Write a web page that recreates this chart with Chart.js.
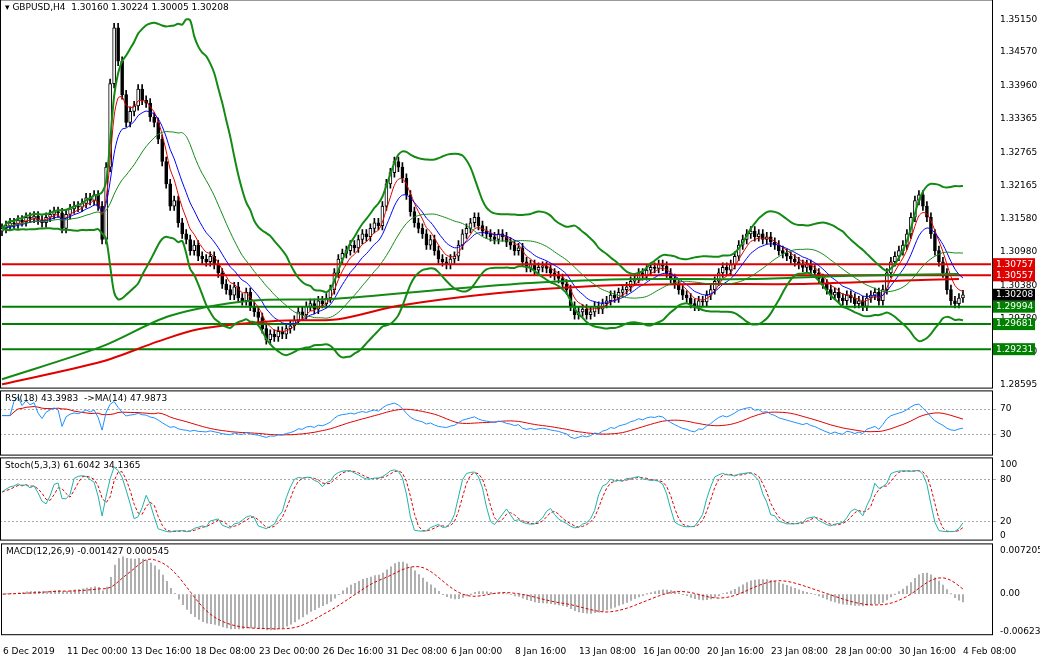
<!DOCTYPE html>
<html>
<head>
<meta charset="utf-8">
<script src="https://cdn.jsdelivr.net/npm/chart.js@4.4.1/dist/chart.umd.min.js"></script>
<style>
  body { margin: 0; background: #fff; width: 1040px; height: 660px; overflow: hidden; font-family: "DejaVu Sans", sans-serif; }
  .pane { position: absolute; left: 0; width: 1040px; }
</style>
</head>
<body>
<div class="pane" style="top:-10px;height:408px"><canvas id="main"></canvas></div>
<div class="pane" style="top:381px;height:84px"><canvas id="rsi"></canvas></div>
<div class="pane" style="top:448px;height:102px"><canvas id="stoch"></canvas></div>
<div class="pane" style="top:534px;height:126px"><canvas id="macd"></canvas></div>
<script>
// H4 closes, 6 Dec 2019 .. 4 Feb 2020
const closes = [
  1.3140,1.3145,1.3150,1.3148,1.3155,1.3152,1.3160,1.3158,1.3162,1.3155,
  1.3150,1.3160,1.3165,1.3170,1.3168,1.3140,1.3165,1.3175,1.3180,1.3178,
  1.3185,1.3195,1.3190,1.3200,1.3180,1.3120,1.3250,1.3400,1.3500,1.3440,
  1.3380,1.3330,1.3350,1.3360,1.3390,1.3370,1.3365,1.3340,1.3330,1.3300,
  1.3260,1.3220,1.3180,1.3190,1.3150,1.3130,1.3120,1.3100,1.3110,1.3090,
  1.3085,1.3080,1.3090,1.3075,1.3060,1.3040,1.3030,1.3020,1.3035,1.3015,
  1.3010,1.3025,1.3000,1.2990,1.2980,1.2960,1.2940,1.2950,1.2945,1.2955,
  1.2950,1.2960,1.2965,1.2975,1.2990,1.2985,1.3000,1.3005,1.2995,1.3010,
  1.3005,1.3015,1.3030,1.3060,1.3085,1.3095,1.3100,1.3110,1.3105,1.3120,
  1.3130,1.3125,1.3140,1.3150,1.3145,1.3180,1.3220,1.3240,1.3260,1.3250,
  1.3230,1.3200,1.3170,1.3150,1.3140,1.3130,1.3110,1.3120,1.3100,1.3085,
  1.3080,1.3075,1.3085,1.3090,1.3110,1.3130,1.3140,1.3150,1.3160,1.3145,
  1.3135,1.3130,1.3125,1.3120,1.3130,1.3125,1.3115,1.3110,1.3100,1.3105,
  1.3080,1.3070,1.3075,1.3065,1.3070,1.3072,1.3068,1.3060,1.3055,1.3050,
  1.3040,1.3030,1.3000,1.2985,1.2990,1.2995,1.2985,1.2990,1.3000,1.2995,
  1.3005,1.3010,1.3020,1.3015,1.3025,1.3030,1.3035,1.3045,1.3050,1.3060,
  1.3055,1.3065,1.3070,1.3068,1.3075,1.3072,1.3060,1.3050,1.3040,1.3030,
  1.3020,1.3015,1.3005,1.3000,1.3010,1.3008,1.3020,1.3030,1.3045,1.3060,
  1.3070,1.3065,1.3075,1.3090,1.3110,1.3120,1.3130,1.3135,1.3125,1.3130,
  1.3120,1.3125,1.3115,1.3110,1.3100,1.3095,1.3090,1.3085,1.3080,1.3075,
  1.3070,1.3075,1.3065,1.3060,1.3050,1.3040,1.3030,1.3020,1.3025,1.3015,
  1.3010,1.3020,1.3015,1.3005,1.3010,1.3000,1.3015,1.3020,1.3025,1.3010,
  1.3030,1.3060,1.3080,1.3090,1.3100,1.3110,1.3130,1.3160,1.3190,1.3200,
  1.3180,1.3160,1.3130,1.3100,1.3080,1.3060,1.3030,1.3010,1.3005,1.3015,
  1.30208
];
const firstOpen = 1.3135;
const wick = 0.0008;
const totalSlots = 248;

// x labels every 16 bars
const timeLabels = ['6 Dec 2019','11 Dec 00:00','13 Dec 16:00','18 Dec 08:00','23 Dec 00:00','26 Dec 16:00',
  '31 Dec 08:00','6 Jan 00:00','8 Jan 16:00','13 Jan 08:00','16 Jan 00:00','20 Jan 16:00',
  '23 Jan 08:00','28 Jan 00:00','30 Jan 16:00','4 Feb 08:00'];

// long moving averages (bar index -> price)
const maSlowIdx  = [0, 25, 39, 49, 69, 84, 99, 124, 149, 174, 199, 224, 239];
const maSlowVals = [1.2860,1.2901,1.2937,1.2959,1.2974,1.2977,1.3001,1.3024,1.3037,1.3040,1.3040,1.3046,1.3049];
const maLongIdx  = [0, 25, 42, 62, 82, 107, 132, 159, 187, 212, 239];
const maLongVals = [1.2869,1.2928,1.2983,1.3010,1.3013,1.3028,1.3042,1.3049,1.3049,1.3055,1.3058];

// horizontal levels
const redLevels = [1.30757, 1.30557];
const greenLevels = [1.29994, 1.29681, 1.29231];
const priceTicks = [1.35150,1.34570,1.33960,1.33365,1.32765,1.32165,1.31580,1.30980,1.30380,1.29780,1.29180,1.28595];

const labels = Array.from({length: totalSlots}, (_, i) => i);
const opens = closes.map((c, i) => i === 0 ? firstOpen : closes[i - 1]);

function sma(arr, n) {
  return arr.map((v, i) => {
    if (v == null) return null;
    const s = arr.slice(Math.max(0, i - n + 1), i + 1).filter(x => x != null);
    return s.reduce((a, b) => a + b, 0) / s.length;
  });
}
function ema(arr, n) {
  const k = 2 / (n + 1); let e = arr[0];
  return arr.map(v => (e = e + k * (v - e)));
}
function sparse(idx, vals) {
  const out = new Array(totalSlots).fill(null);
  idx.forEach((x, j) => out[x] = vals[j]);
  return out;
}

// Bollinger 20,2
const mid = sma(closes, 20);
const sd = closes.map((v, i) => {
  const s = closes.slice(Math.max(0, i - 19), i + 1);
  const m = mid[i];
  return Math.sqrt(s.reduce((a, b) => a + (b - m) * (b - m), 0) / s.length);
});
const bbUp = mid.map((m, i) => m + 2 * sd[i]);
const bbDn = mid.map((m, i) => m - 2 * sd[i]);
const maFast = ema(closes, 5);
const maMid = ema(closes, 10);

// RSI 18 + MA 14
const rsi = (() => {
  let ag = 0, al = 0;
  return closes.map((c, i) => {
    const d = i === 0 ? 0 : c - closes[i - 1];
    ag = (ag * 17 + Math.max(d, 0)) / 18;
    al = (al * 17 + Math.max(-d, 0)) / 18;
    return al === 0 ? 60 : 100 - 100 / (1 + ag / al);
  });
})();
const rsiMa = sma(rsi, 14);

// Stochastic 5,3,3
const highs = closes.map((c, i) => Math.max(c, opens[i]) + wick);
const lows = closes.map((c, i) => Math.min(c, opens[i]) - wick);
const num = closes.map((c, i) => c - Math.min(...lows.slice(Math.max(0, i - 4), i + 1)));
const den = closes.map((c, i) => Math.max(...highs.slice(Math.max(0, i - 4), i + 1)) - Math.min(...lows.slice(Math.max(0, i - 4), i + 1)));
const stK = num.map((n, i) => {
  const a = num.slice(Math.max(0, i - 2), i + 1).reduce((x, y) => x + y, 0);
  const b = den.slice(Math.max(0, i - 2), i + 1).reduce((x, y) => x + y, 0);
  return 100 * a / b;
});
const stD = sma(stK, 3);

// MACD 12,26,9
const macd = ema(closes, 12).map((v, i) => v - ema(closes, 26)[i]);
const macdSig = sma(macd, 9);

Chart.defaults.animation = false;
Chart.defaults.font = { family: 'DejaVu Sans', size: 9 };
Chart.defaults.color = '#000';

const frame = {
  id: 'frame',
  afterDraw(c) {
    const a = c.chartArea, g = c.ctx;
    g.save(); g.strokeStyle = '#000'; g.lineWidth = 1;
    g.strokeRect(a.left + 0.5, a.top + 0.5, a.right - a.left - 1, a.bottom - a.top - 1);
    g.font = '9px DejaVu Sans'; g.fillStyle = '#000'; g.textBaseline = 'top';
    g.fillText(c.options.plugins.paneTitle, a.left + 5, a.top + 4);
    g.restore();
  }
};

function xScale(show) {
  return {
    type: 'category', offset: true,
    grid: { display: false },
    border: { display: false },
    ticks: {
      display: show, autoSkip: false, maxRotation: 0, align: 'start', padding: 3,
      callback: (v, i) => (i % 16 === 0 && timeLabels[i / 16]) ? timeLabels[i / 16] : ''
    }
  };
}
function yScale(min, max, ticks, fmt, dotted) {
  return {
    position: 'right', min, max,
    afterFit: s => { s.width = 47; },
    afterBuildTicks: s => { s.ticks = ticks.map(v => ({ value: v })); },
    grid: {
      tickLength: 3,
      color: ctx => (dotted && dotted.includes(ctx.tick && ctx.tick.value)) ? '#aaa' : 'rgba(0,0,0,0)',
    },
    border: { display: false, dash: [2, 2] },
    ticks: { padding: 4, callback: fmt }
  };
}
function line(data, color, w, dash) {
  return { type: 'line', data, borderColor: color, borderWidth: w, borderDash: dash || [], pointRadius: 0, spanGaps: true, fill: false };
}
const baseOpts = (title, scales) => ({
  responsive: true, maintainAspectRatio: false,
  layout: { padding: 0 },
  plugins: { legend: { display: false }, tooltip: { enabled: false }, paneTitle: title },
  scales
});

// main price chart
const levelBoxes = {
  id: 'levelBoxes',
  afterDraw(c) {
    const y = c.scales.y, a = c.chartArea, g = c.ctx;
    const boxes = [
      ...redLevels.map(v => [v, '#e00000']),
      ...greenLevels.map(v => [v, '#008000']),
      [closes[closes.length - 1], '#000']
    ];
    g.save(); g.font = '9px DejaVu Sans'; g.textBaseline = 'middle';
    boxes.forEach(([v, col]) => {
      const py = y.getPixelForValue(v);
      g.fillStyle = col; g.fillRect(a.right, py - 6, 42, 12);
      g.fillStyle = '#fff'; g.fillText(v.toFixed(5), a.right + 3, py);
    });
    g.restore();
  }
};
const dsMain = [
  { type: 'bar', data: closes.map((c, i) => [lows[i], highs[i]]), backgroundColor: '#000', barThickness: 1, grouped: false, order: 5 },
  { type: 'bar', data: closes.map((c, i) => [opens[i], c]), backgroundColor: closes.map((c, i) => c >= opens[i] ? '#fff' : '#000'),
    borderColor: '#000', borderWidth: 1, borderSkipped: false, barThickness: 3, grouped: false, order: 4 },
  line(bbUp, '#138a13', 2), line(bbDn, '#138a13', 2), line(mid, '#138a13', 1),
  line(sparse(maLongIdx, maLongVals), '#138a13', 2),
  line(sparse(maSlowIdx, maSlowVals), '#e00000', 2),
  line(maMid, '#0000ff', 1), line(maFast, '#e00000', 1),
  ...redLevels.map(v => line(labels.map(() => v), '#e00000', 2)),
  ...greenLevels.map(v => line(labels.map(() => v), '#008000', 2))
];
dsMain.forEach(d => { if (d.type === 'line') { d.tension = 0.3; d.order = 1; } });
new Chart(document.getElementById('main'), {
  data: { labels, datasets: dsMain },
  options: baseOpts('\u25BE GBPUSD,H4  1.30160 1.30224 1.30005 1.30208', {
    x: xScale(false),
    y: yScale(1.28523, 1.35511, priceTicks, v => v.toFixed(5))
  }),
  plugins: [frame, levelBoxes]
});

new Chart(document.getElementById('rsi'), {
  data: { labels, datasets: [line(rsi, '#1e90ff', 1), line(rsiMa, '#e00000', 1)] },
  options: baseOpts('RSI(18) 43.3983  ->MA(14) 47.9873', {
    x: xScale(false),
    y: yScale(-2, 99, [70, 30], v => v, [70, 30])
  }),
  plugins: [frame]
});

new Chart(document.getElementById('stoch'), {
  data: { labels, datasets: [line(stK, '#20b2aa', 1), line(stD, '#e00000', 1, [3, 2])] },
  options: baseOpts('Stoch(5,3,3) 61.6042 34.1365', {
    x: xScale(false),
    y: yScale(-7, 111, [100, 80, 20, 0], v => v, [80, 20])
  }),
  plugins: [frame]
});

new Chart(document.getElementById('macd'), {
  data: { labels, datasets: [
    { type: 'bar', data: macd, backgroundColor: '#a0a0a0', barThickness: 1, order: 2 },
    { ...line(macdSig, '#e00000', 1, [3, 2]), order: 1 }
  ] },
  options: baseOpts('MACD(12,26,9) -0.001427 0.000545', {
    x: xScale(true),
    y: yScale(-0.00688, 0.00849, [0.007205, 0, -0.00623], v => v === 0 ? '0.00' : (v > 0 ? '0.007205' : '-0.00623'))
  }),
  plugins: [frame]
});
</script>
</body>
</html>
